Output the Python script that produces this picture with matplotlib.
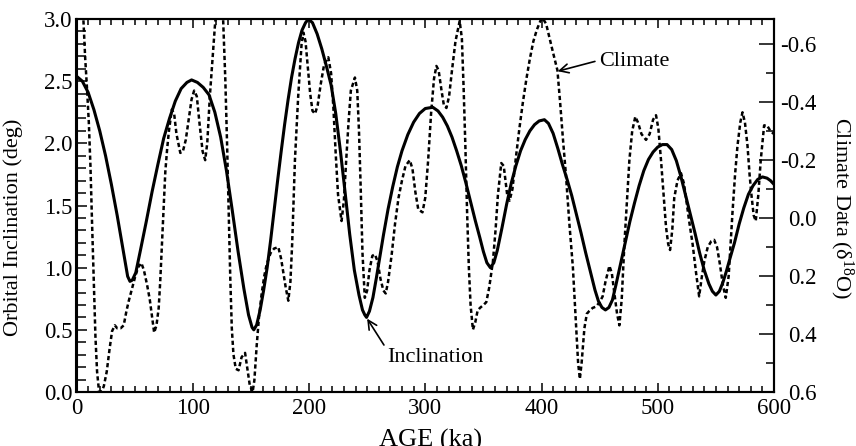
"""
Orbital inclination vs. climate (delta-18O) record over the last 600 ka.
"""

import matplotlib

matplotlib.use("Agg")
import matplotlib.pyplot as plt
from matplotlib.ticker import MultipleLocator

# Orbital inclination (deg), left axis
incl_age = [0, 5, 10, 15, 20, 25, 30, 35, 39, 42, 44, 46, 48, 51, 55, 60, 65, 70, 75, 80,
            85, 90, 95, 99, 104, 109, 114, 119, 124, 129, 134, 139, 144, 148, 151, 152.5,
            155, 158, 161, 164, 167, 170, 173, 176, 179, 182, 185, 188, 191, 194, 197, 199.5,
            203, 207, 211, 215, 219, 223, 227, 231, 235, 239, 243, 246, 248, 249.5,
            252, 255, 258, 261, 264, 268, 272, 276, 280, 285, 290, 295, 300, 306.5,
            311, 315, 319, 323, 327, 331, 335, 339, 343, 347, 350, 353, 356,
            359, 362, 366, 370, 374, 378, 382, 386, 390, 394, 398, 402.5,
            406, 410, 414, 418, 422, 426, 430, 434, 438, 442, 446, 449, 452, 455,
            458, 461, 464, 468, 472, 476, 480, 484, 488, 492, 496, 500, 504, 508,
            512, 516, 520, 524, 528, 532, 536, 540, 544, 547, 550,
            553, 556, 559, 562, 566, 570, 574, 578, 582, 586, 590, 594, 597, 600]
incl_deg = [2.54, 2.50, 2.41, 2.27, 2.10, 1.90, 1.67, 1.42, 1.20, 1.03, 0.93, 0.89, 0.90, 0.96,
            1.14, 1.37, 1.61, 1.83, 2.04, 2.20, 2.34, 2.44, 2.49, 2.51, 2.49, 2.45, 2.39, 2.25,
            2.05, 1.78, 1.46, 1.13, 0.83, 0.62, 0.52, 0.50,
            0.54, 0.66, 0.82, 1.00, 1.22, 1.46, 1.70, 1.93, 2.15, 2.35, 2.53, 2.68, 2.81, 2.91,
            2.97, 3.00,
            2.97, 2.88, 2.76, 2.62, 2.47, 2.24, 1.94, 1.61, 1.27, 0.98, 0.78, 0.66, 0.62, 0.60,
            0.65, 0.76, 0.92, 1.09, 1.26, 1.47, 1.65, 1.81, 1.94, 2.07, 2.17, 2.24, 2.28, 2.29,
            2.26, 2.21, 2.14, 2.05, 1.94, 1.82, 1.68, 1.53, 1.38, 1.24, 1.13, 1.04, 1.00,
            1.04, 1.14, 1.32, 1.51, 1.68, 1.82, 1.94, 2.03, 2.10, 2.15, 2.18, 2.19,
            2.16, 2.08, 1.96, 1.83, 1.71, 1.58, 1.43, 1.28, 1.12, 0.97, 0.82, 0.73, 0.68, 0.66,
            0.68, 0.74, 0.86, 1.03, 1.20, 1.37, 1.52, 1.66, 1.78, 1.87, 1.93, 1.97, 1.99, 1.99,
            1.95, 1.86, 1.73, 1.58, 1.43, 1.28, 1.12, 0.98, 0.87, 0.81, 0.78,
            0.81, 0.88, 0.97, 1.07, 1.20, 1.35, 1.48, 1.59, 1.66, 1.71, 1.73, 1.72, 1.70, 1.67]

# Climate record (delta-18O), right axis (inverted)
clim_age = [0, 4, 7.5, 9, 10.6, 12, 13.4, 14.9, 16.3, 17.7, 19.3, 21.5, 23.5, 26, 28.5, 30.6,
            33, 35, 38, 40.6, 43, 45, 48, 50.6, 53, 55.8, 58, 60.7, 63, 65, 66.8, 68.8, 70.7,
            72, 73.5, 75, 76.4, 78, 79.5, 82, 84, 86, 89.3, 91.5, 94, 96.5, 99, 101.2, 103.5,
            106, 108.5, 110.7, 112.5, 114.7, 117, 119, 121, 124, 126, 128, 129.5, 130.9, 132.3,
            133.6, 135, 137, 139.4, 142, 145, 147, 149, 151.5, 153, 155, 157, 159.3, 161.5,
            163.6, 167, 170, 173.6, 176, 178, 180, 182.2, 184, 185.5, 187.9, 190.7, 193.6,
            195.2, 197, 199, 201, 203, 205.2, 207.5, 210, 213, 216.6, 219, 221, 223, 225, 228,
            230, 232, 234, 236, 239.5, 241.5, 243, 244.5, 246, 248, 250, 252, 254.5, 256.7,
            259, 261.5, 264, 266, 268, 271, 274, 277, 280, 283, 286.7, 289, 291.5, 294, 297.6,
            300, 302.5, 305, 307.5, 309.6, 311.5, 314, 316, 318.2, 320.5, 323, 326, 329.6,
            331.5, 333, 334.5, 336, 337.5, 339, 341, 343, 345, 347, 350, 352.5, 355, 358.2,
            360.5, 362.5, 365.4, 367.5, 369, 370.5, 372.5, 375, 378, 381, 384, 387, 390, 393,
            396, 399, 401, 404, 407, 410, 413.7, 416, 418.5, 421, 424, 427, 429.5, 431.5, 433,
            434.5, 436.9, 439, 441.2, 444, 447, 450, 452.6, 455, 458.4, 460.5, 462.7, 465, 467,
            469, 471.3, 473.5, 475.6, 478, 480.7, 483, 486, 489.9, 493, 496, 498.5, 500.5,
            502.8, 505, 507.1, 509, 510.6, 512.5, 514.2, 517, 520, 522.5, 524.3, 527, 530, 533,
            535.6, 538, 540, 543, 546, 548.5, 551, 553.5, 556, 558.5, 561, 564.3, 566.5, 568.6,
            571, 572.9, 575, 577.2, 579, 580.6, 582.5, 584.3, 586.5, 588.6, 591.5, 594, 597, 600]
clim_d18o = [-1.00, -0.85, -0.55, -0.45, -0.33, -0.18, 0.02, 0.22, 0.41, 0.53, 0.595, 0.60,
             0.58, 0.53, 0.45, 0.39, 0.37, 0.38, 0.38, 0.37, 0.32, 0.285, 0.24, 0.20, 0.17,
             0.155, 0.18, 0.23, 0.28, 0.34, 0.395, 0.37, 0.31, 0.22, 0.09, -0.04, -0.16, -0.24,
             -0.30, -0.375, -0.36, -0.29, -0.225, -0.23, -0.27, -0.34, -0.41, -0.44, -0.42,
             -0.32, -0.23, -0.20, -0.26, -0.42, -0.55, -0.66, -0.75, -0.76, -0.70, -0.48, -0.26,
             -0.02, 0.21, 0.38, 0.47, 0.52, 0.525, 0.48, 0.465, 0.52, 0.575, 0.60, 0.56, 0.44,
             0.34, 0.26, 0.20, 0.16, 0.12, 0.105, 0.10, 0.14, 0.19, 0.24, 0.285, 0.22, 0.09,
             -0.20, -0.42, -0.60, -0.64, -0.61, -0.52, -0.43, -0.37, -0.36, -0.39, -0.46, -0.53,
             -0.555, -0.50, -0.38, -0.22, -0.08, 0.01, -0.06, -0.20, -0.33, -0.44, -0.485,
             -0.44, -0.30, -0.10, 0.12, 0.275, 0.25, 0.18, 0.13, 0.125, 0.15, 0.21, 0.25, 0.26,
             0.22, 0.13, 0.02, -0.07, -0.13, -0.18, -0.20, -0.17, -0.09, -0.03, -0.02, -0.07,
             -0.20, -0.36, -0.48, -0.525, -0.51, -0.44, -0.39, -0.38, -0.42, -0.51, -0.61,
             -0.68, -0.62, -0.45, -0.25, -0.02, 0.17, 0.30, 0.385, 0.36, 0.32, 0.31, 0.30, 0.29,
             0.24, 0.15, 0.04, -0.08, -0.19, -0.18, -0.13, -0.08, -0.06, -0.10, -0.21, -0.31,
             -0.40, -0.48, -0.55, -0.61, -0.65, -0.68, -0.69, -0.67, -0.62, -0.57, -0.51, -0.40,
             -0.27, -0.15, 0.02, 0.17, 0.35, 0.50, 0.555, 0.50, 0.38, 0.33, 0.32, 0.31, 0.305,
             0.29, 0.27, 0.22, 0.165, 0.19, 0.26, 0.33, 0.37, 0.28, 0.09, -0.06, -0.20, -0.30,
             -0.35, -0.33, -0.29, -0.27, -0.29, -0.34, -0.355, -0.31, -0.20, -0.08, 0.03, 0.09,
             0.11, 0.04, -0.07, -0.13, -0.155, -0.12, -0.07, 0.01, 0.09, 0.19, 0.27, 0.20, 0.15,
             0.10, 0.08, 0.075, 0.10, 0.16, 0.23, 0.275, 0.20, -0.02, -0.15, -0.25, -0.33,
             -0.365, -0.33, -0.25, -0.15, -0.08, -0.01, 0.01, -0.08, -0.20, -0.32, -0.32, -0.30,
             -0.29]

x_ticks = [0, 100, 200, 300, 400, 500, 600]
left_ticks = [0.0, 0.5, 1.0, 1.5, 2.0, 2.5, 3.0]
right_ticks = [-0.6, -0.4, -0.2, 0.0, 0.2, 0.4, 0.6]
right_tick_labels = ["-0.6", "-0.4", "-0.2", "0.0", "0.2", "0.4", "0.6"]

W, H = 856, 446


def main() -> None:
    plt.rcParams["font.family"] = ["Liberation Serif", "DejaVu Serif"]
    plt.rcParams["mathtext.fontset"] = "custom"
    plt.rcParams["mathtext.rm"] = "Liberation Serif"
    plt.rcParams["mathtext.it"] = "Liberation Serif:italic"
    plt.rcParams["axes.unicode_minus"] = False

    fig = plt.figure(figsize=(W / 100, H / 100), dpi=100)
    ax = fig.add_axes([76.5 / W, 1 - 392 / H, (774 - 76.5) / W, (392 - 19) / H])
    ax2 = ax.twinx()

    ax.plot(incl_age, incl_deg, color="black", lw=2.2, solid_capstyle="round")
    ax2.plot(clim_age, clim_d18o, color="black", lw=1.8, linestyle=(0, (1.7, 1.15)))

    ax.set_xlim(0, 600)
    ax.set_ylim(0.0, 3.0)
    ax2.set_ylim(0.6, -0.687)

    ax.set_xticks(x_ticks)
    ax.set_xticklabels([str(t) for t in x_ticks])
    ax.xaxis.set_minor_locator(MultipleLocator(10))
    ax.set_yticks(left_ticks)
    ax.set_yticklabels([f"{t:.1f}" for t in left_ticks])
    ax.yaxis.set_minor_locator(MultipleLocator(0.1))
    ax2.set_yticks(right_ticks)
    ax2.set_yticklabels(right_tick_labels, ha="right")
    ax2.yaxis.set_minor_locator(MultipleLocator(0.1))

    ax.tick_params(axis="x", which="both", direction="in", top=True, bottom=True,
                   labelsize=16.5, pad=4, width=1.1)
    ax.tick_params(axis="x", which="major", length=6.5)
    ax.tick_params(axis="x", which="minor", length=4)
    ax.tick_params(axis="y", which="both", direction="in", left=True, right=False,
                   labelsize=16.5, pad=3, width=1.1)
    ax.tick_params(axis="y", which="major", length=7.5)
    ax.tick_params(axis="y", which="minor", length=6.5)
    # right-hand labels are right-aligned, so the pad sets their right edge
    ax2.tick_params(axis="y", which="both", direction="in", right=True, left=False,
                    labelsize=16.5, pad=30.5, width=1.1)
    ax2.tick_params(axis="y", which="major", length=11)
    ax2.tick_params(axis="y", which="minor", length=6)

    for a in (ax, ax2):
        for s in a.spines.values():
            s.set_linewidth(1.5)

    ax.set_xlabel("AGE (ka)", fontsize=19)
    ax.xaxis.set_label_coords(0.508, -0.1)
    ax.set_ylabel("Orbital Inclination (deg)", fontsize=16)
    ax.yaxis.set_label_coords(-0.077, 0.441)
    ax2.set_ylabel("Climate Data (δ$^{18}$O)", fontsize=16, rotation=270, va="center")
    ax2.yaxis.set_label_coords(1.097, 0.492)

    arrow = dict(arrowstyle="->", color="black", lw=1.2, shrinkA=1, shrinkB=0)
    ax.annotate("Climate", xy=(414, 2.58), xytext=(449.5, 2.66), fontsize=16,
                ha="left", va="center",
                arrowprops=dict(arrow, relpos=(0.0, 0.55)))
    ax.annotate("Inclination", xy=(250, 0.59), xytext=(267.5, 0.28), fontsize=16,
                ha="left", va="center",
                arrowprops=dict(arrow, relpos=(0.0, 0.85)))

    fig.savefig("out.png", dpi=100)
    plt.close(fig)


if __name__ == "__main__":
    main()
